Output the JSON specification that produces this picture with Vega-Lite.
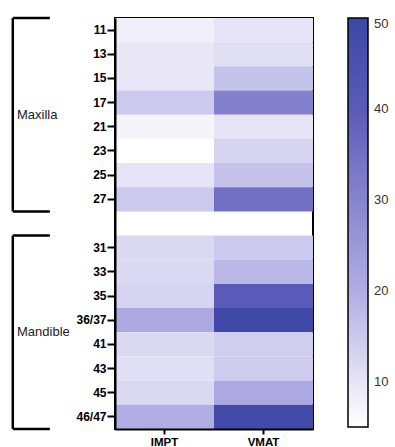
{
  "$schema": "https://vega.github.io/schema/vega-lite/v6.json",
  "padding": {"left": 5, "top": 16, "right": 5, "bottom": 5},
  "config": {"view": {"stroke": null}, "font": "Liberation Sans", "concat": {"spacing": 4}},
  "datasets": {
    "cells": [
      {"tooth": "11", "plan": "IMPT", "value": 8},
      {"tooth": "13", "plan": "IMPT", "value": 9.5},
      {"tooth": "15", "plan": "IMPT", "value": 9.5},
      {"tooth": "17", "plan": "IMPT", "value": 15},
      {"tooth": "21", "plan": "IMPT", "value": 7},
      {"tooth": "23", "plan": "IMPT", "value": 5},
      {"tooth": "25", "plan": "IMPT", "value": 10},
      {"tooth": "27", "plan": "IMPT", "value": 15},
      {"tooth": "31", "plan": "IMPT", "value": 12},
      {"tooth": "33", "plan": "IMPT", "value": 12},
      {"tooth": "35", "plan": "IMPT", "value": 13},
      {"tooth": "36/37", "plan": "IMPT", "value": 21},
      {"tooth": "41", "plan": "IMPT", "value": 12},
      {"tooth": "43", "plan": "IMPT", "value": 11},
      {"tooth": "45", "plan": "IMPT", "value": 12},
      {"tooth": "46/47", "plan": "IMPT", "value": 20},
      {"tooth": "11", "plan": "VMAT", "value": 10},
      {"tooth": "13", "plan": "VMAT", "value": 11},
      {"tooth": "15", "plan": "VMAT", "value": 16},
      {"tooth": "17", "plan": "VMAT", "value": 31},
      {"tooth": "21", "plan": "VMAT", "value": 10},
      {"tooth": "23", "plan": "VMAT", "value": 13},
      {"tooth": "25", "plan": "VMAT", "value": 16},
      {"tooth": "27", "plan": "VMAT", "value": 35},
      {"tooth": "31", "plan": "VMAT", "value": 15},
      {"tooth": "33", "plan": "VMAT", "value": 18},
      {"tooth": "35", "plan": "VMAT", "value": 40},
      {"tooth": "36/37", "plan": "VMAT", "value": 49},
      {"tooth": "41", "plan": "VMAT", "value": 14},
      {"tooth": "43", "plan": "VMAT", "value": 14.5},
      {"tooth": "45", "plan": "VMAT", "value": 21},
      {"tooth": "46/47", "plan": "VMAT", "value": 48}
    ],
    "groups": [
      {"group": "Maxilla", "first": "11", "last": "27", "mid": "17"},
      {"group": "Mandible", "first": "31", "last": "46/47", "mid": "36/37"}
    ]
  },
  "resolve": {"scale": {"x": "independent", "y": "independent"}},
  "hconcat": [
    {
      "width": 65,
      "height": 411,
      "data": {"name": "groups"},
      "layer": [
        {
          "mark": {"type": "rule", "strokeWidth": 2.5, "color": "black"},
          "encoding": {
            "x": {"datum": 0.12, "type": "quantitative", "scale": {"domain": [0, 1]}, "axis": null},
            "y": {"field": "first", "type": "ordinal", "bandPosition": 0,
                  "scale": {"domain": ["11","13","15","17","21","23","25","27","gap","31","33","35","36/37","41","43","45","46/47"], "paddingInner": 0, "paddingOuter": 0},
                  "axis": null},
            "y2": {"field": "last", "bandPosition": 1}
          }
        },
        {
          "mark": {"type": "rule", "strokeWidth": 2.5, "color": "black"},
          "encoding": {
            "x": {"datum": 0.12, "type": "quantitative"},
            "x2": {"datum": 0.69},
            "y": {"field": "first", "type": "ordinal", "bandPosition": 0}
          }
        },
        {
          "mark": {"type": "rule", "strokeWidth": 2.5, "color": "black"},
          "encoding": {
            "x": {"datum": 0.12, "type": "quantitative"},
            "x2": {"datum": 0.69},
            "y": {"field": "last", "type": "ordinal", "bandPosition": 1}
          }
        },
        {
          "mark": {"type": "text", "align": "left", "baseline": "middle", "fontSize": 13, "color": "#222"},
          "encoding": {
            "x": {"datum": 0.185, "type": "quantitative"},
            "y": {"field": "mid", "type": "ordinal", "bandPosition": 1},
            "text": {"field": "group"}
          }
        }
      ]
    },
    {
      "width": 198,
      "height": 411,
      "view": {"stroke": "black", "strokeWidth": 2},
      "data": {"name": "cells"},
      "mark": {"type": "rect"},
      "encoding": {
        "x": {"field": "plan", "type": "nominal", "sort": ["IMPT", "VMAT"],
              "scale": {"paddingInner": 0, "paddingOuter": 0},
              "axis": {"title": null, "labelAngle": 0, "labelFontWeight": "bold", "labelFontSize": 11.5, "labelColor": "black",
                       "tickColor": "black", "tickWidth": 2, "tickSize": 5, "domainColor": "black", "domainWidth": 2, "labelPadding": 2}},
        "y": {"field": "tooth", "type": "ordinal",
              "scale": {"domain": ["11","13","15","17","21","23","25","27","gap","31","33","35","36/37","41","43","45","46/47"], "paddingInner": 0, "paddingOuter": 0},
              "axis": {"title": null, "values": ["11","13","15","17","21","23","25","27","31","33","35","36/37","41","43","45","46/47"],
                       "labelFontWeight": "bold", "labelFontSize": 12, "labelColor": "black",
                       "tickColor": "black", "tickWidth": 2, "tickSize": 8, "domainColor": "black", "domainWidth": 2, "labelPadding": 1}},
        "color": {"field": "value", "type": "quantitative",
                  "scale": {"domain": [5, 10, 20, 30, 40, 50], "range": ["#ffffff", "#e6e4f6", "#b0ade4", "#8784cf", "#5a5bb8", "#3d47a6"], "interpolate": "rgb"},
                  "legend": {"title": null, "values": [10, 20, 30, 40, 50], "gradientLength": 409, "gradientThickness": 20,
                             "gradientStrokeColor": "black", "gradientStrokeWidth": 1.5, "labelFontSize": 13, "labelColor": "#333",
                             "labelBaseline": "middle",
                             "offset": 34, "padding": 0, "labelOffset": 6}}
      }
    }
  ]
}
